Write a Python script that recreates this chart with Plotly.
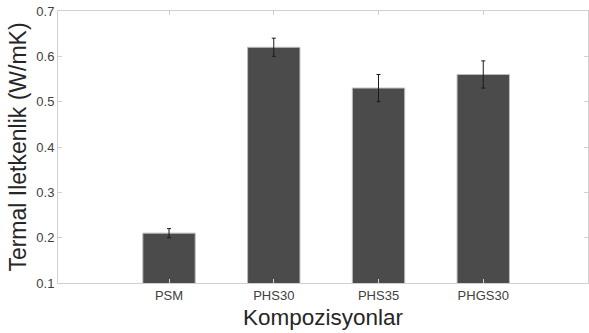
import plotly.graph_objects as go

categories = ["PSM", "PHS30", "PHS35", "PHGS30"]
values = [0.21, 0.62, 0.53, 0.56]
errors = [0.01, 0.02, 0.03, 0.03]
y_ticks = [0.1, 0.2, 0.3, 0.4, 0.5, 0.6, 0.7]

fig = go.Figure(go.Bar(
    x=categories, y=values, width=0.5,
    marker=dict(color="#4b4b4b", line=dict(color="#bdbdbd", width=1)),
    error_y=dict(type="data", array=errors, visible=True, color="#1a1a1a", thickness=1, width=2),
))

font = "Liberation Sans, Arial, sans-serif"
fig.update_layout(
    width=589, height=333,
    margin=dict(l=58, r=1, t=11, b=50),
    plot_bgcolor="white", paper_bgcolor="white",
    showlegend=False,
    font=dict(family=font, color="#404040", size=13),
    xaxis=dict(
        range=[-1.06, 4.0], showline=True, linecolor="#d0d0d0", linewidth=1, mirror="ticks",
        ticks="inside", ticklen=4, tickcolor="#d0d0d0", showgrid=False,
        title=dict(text="Kompozisyonlar", font=dict(size=22.5, color="#262626"), standoff=7),
        tickfont=dict(size=13, color="#404040"),
    ),
    yaxis=dict(
        range=[0.1, 0.7], tickvals=y_ticks, ticktext=[f"{v:.1f}" for v in y_ticks],
        showline=True, linecolor="#d0d0d0", linewidth=1, mirror="ticks",
        ticks="inside", ticklen=4, tickcolor="#d0d0d0", showgrid=False, zeroline=False,
        title=dict(text="Termal Iletkenlik (W/mK)", font=dict(size=23, color="#262626"), standoff=3),
        tickfont=dict(size=13, color="#404040"),
    ),
)

fig.write_html("out.html")
